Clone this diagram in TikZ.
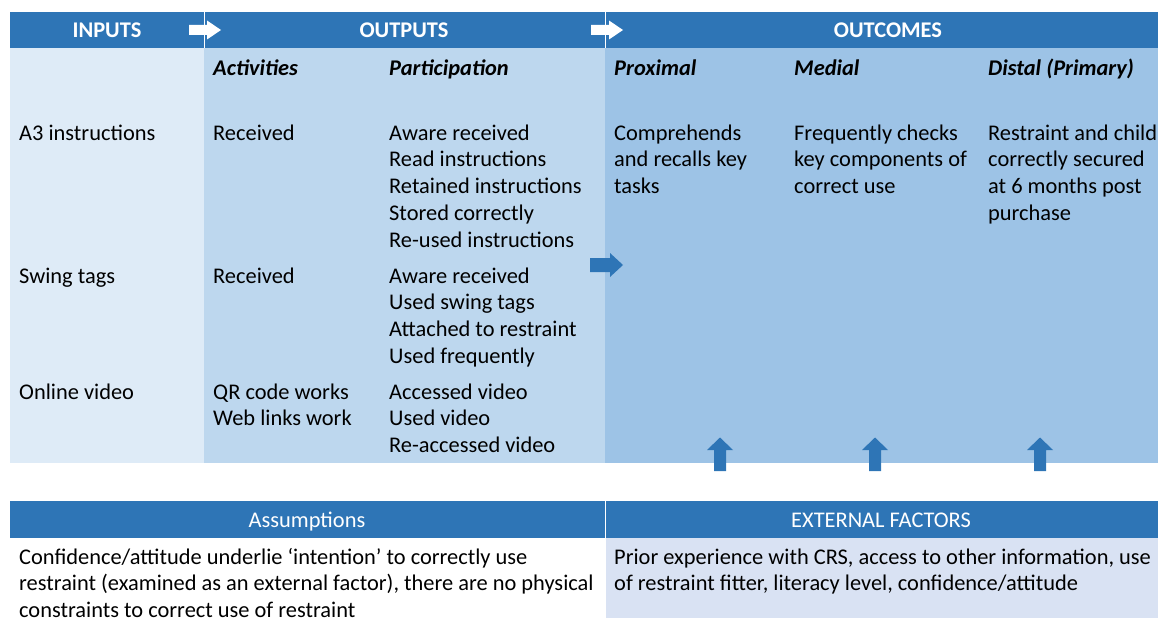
\documentclass[tikz,border=0pt]{standalone}
\usepackage{fontspec}
\setmainfont{Carlito}
\usetikzlibrary{shapes,arrows,positioning,calc}
\usepackage{xcolor}
\definecolor{hdrblue}{HTML}{2E75B6}
\definecolor{inpfill}{HTML}{DEEBF7}
\definecolor{outfill}{HTML}{BDD7EE}
\definecolor{ocfill}{HTML}{9DC3E6}
\definecolor{extfill}{HTML}{D9E2F3}
\newcommand{\bodyfont}{\fontsize{22.4}{26.8}\selectfont}

\begin{document}
\begin{tikzpicture}[x=1pt,y=-1pt,
    cell/.style={anchor=north west, inner sep=0pt, align=left, font=\bodyfont},
    colhead/.style={cell, font=\bodyfont\bfseries\itshape},
    hdr/.style={anchor=base, inner sep=0pt, text=white, font=\bodyfont\bfseries},
    subhdr/.style={anchor=base, inner sep=0pt, text=white, font=\bodyfont}]
    \useasboundingbox (0,0) rectangle (1158,618);
    % Panels and header bar
    \fill[inpfill] (10,48) rectangle (204,463);
    \fill[outfill] (204,48) rectangle (605,463);
    \fill[ocfill] (605,48) rectangle (1158,463);
    \fill[hdrblue] (10,12) rectangle (1158,48);
    \draw[white, line width=1pt] (204,12) -- (204,48) (605,12) -- (605,48);
    \node[hdr] (inputs) at (107,37.5) {INPUTS};
    \node[hdr] (outputs) at (404,37.5) {OUTPUTS};
    \node[hdr] (outcomes) at (888,37.5) {OUTCOMES};
    \foreach \ax in {189,591} {
        \fill[white] (\ax,25) -- ++(18,0) -- ++(0,-4.5) -- ++(14,9.5) -- ++(-14,9.5) -- ++(0,-4.5) -- ++(-18,0) -- cycle;
    }
    % Column headings
    \node[colhead] (activ) at (213,56.2) {\strut Activities};
    \node[colhead] (partic) at (389,56.2) {\strut Participation};
    \node[colhead] (prox) at (614,56.2) {\strut Proximal};
    \node[colhead] (medial) at (794,56.2) {\strut Medial};
    \node[colhead] (distal) at (988,56.2) {\strut Distal (Primary)};
    % A3 instructions
    \node[cell] (a3) at (19,121.2) {\strut A3 instructions};
    \node[cell] (a3act) at (213,121.2) {\strut Received};
    \node[cell] (a3par) at (389,121.2) {\strut Aware received\\Read instructions\\Retained instructions\\Stored correctly\\Re-used instructions};
    \node[cell] (proxtxt) at (614,121.2) {\strut Comprehends\\and recalls key\\tasks};
    \node[cell] (medtxt) at (794,121.2) {\strut Frequently checks\\key components of\\correct use};
    \node[cell] (distxt) at (988,121.2) {\strut Restraint and child\\correctly secured\\at 6 months post\\purchase};
    % Swing tags
    \node[cell] (swing) at (19,264.2) {\strut Swing tags};
    \node[cell] (swact) at (213,264.2) {\strut Received};
    \node[cell] (swpar) at (389,264.2) {\strut Aware received\\Used swing tags\\Attached to restraint\\Used frequently};
    % Online video
    \node[cell] (video) at (19,380.2) {\strut Online video};
    \node[cell] (vidact) at (213,380.2) {\strut QR code works\\Web links work};
    \node[cell] (vidpar) at (389,380.2) {\strut Accessed video\\Used video\\Re-accessed video};
    % Arrows into outcomes
    \fill[hdrblue] (590,258) -- (610,258) -- (610,253) -- (623,265) -- (610,277) -- (610,272) -- (590,272) -- cycle;
    \foreach \ux in {720,875,1040} {
        \fill[hdrblue] (\ux-6,471) -- (\ux-6,450) -- (\ux-13,450) -- (\ux,437.5) -- (\ux+13,450) -- (\ux+6,450) -- (\ux+6,471) -- cycle;
    }
    % Assumptions and external factors
    \fill[hdrblue] (10,501) rectangle (1158,538);
    \fill[extfill] (605,538) rectangle (1158,618);
    \draw[white, line width=1pt] (605,501) -- (605,618);
    \node[subhdr] (assum) at (307,527) {Assumptions};
    \node[subhdr] (extf) at (881,527) {EXTERNAL FACTORS};
    \node[cell] (assumtxt) at (19,545.2) {\strut Confidence/attitude underlie ‘intention’ to correctly use\\restraint (examined as an external factor), there are no physical\\constraints to correct use of restraint};
    \node[cell] (extftxt) at (614,545.2) {\strut Prior experience with CRS, access to other information, use\\of restraint fitter, literacy level, confidence/attitude};
\end{tikzpicture}
\end{document}
